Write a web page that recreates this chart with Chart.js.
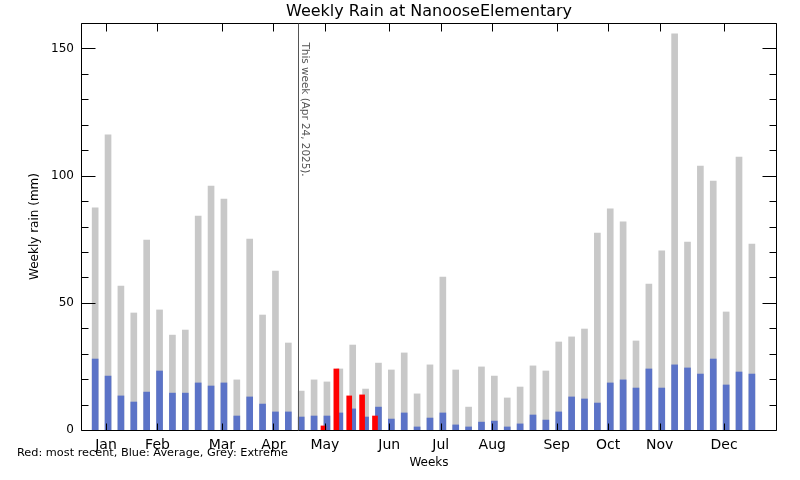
<!DOCTYPE html>
<html>
<head>
<meta charset="utf-8">
<title>Weekly Rain</title>
<script src="https://cdn.jsdelivr.net/npm/chart.js@4.4.1/dist/chart.umd.min.js"></script>
<style>
    html, body { margin: 0; padding: 0; background: #fff; }
    canvas { display: block; }
</style>
</head>
<body>
<canvas id="rainChart" width="800" height="480"></canvas>
<script>
const weeks = [1, 2, 3, 4, 5, 6, 7, 8, 9, 10, 11, 12, 13, 14, 15, 16, 17, 18, 19, 20, 21, 22, 23, 24, 25, 26,
    27, 28, 29, 30, 31, 32, 33, 34, 35, 36, 37, 38, 39, 40, 41, 42, 43, 44, 45, 46, 47, 48, 49, 50, 51, 52];

const extremeRain = [87.3, 116.0, 56.6, 46.0, 74.7, 47.2, 37.3, 39.3, 84.1, 95.9, 90.8, 19.7, 75.1, 45.2, 62.5, 34.2,
    15.3, 19.7, 18.9, 24.0, 33.4, 16.1, 26.3, 23.6, 30.3, 14.2, 25.6, 60.1, 23.6, 9.0, 24.8, 21.2, 12.6, 16.9,
    25.2, 23.2, 34.6, 36.6, 39.7, 77.4, 86.9, 81.8, 35.0, 57.4, 70.4, 155.7, 73.9, 103.8, 97.9, 46.4, 107.3, 73.1];

const averageRain = [27.9, 21.2, 13.4, 11.0, 14.9, 23.2, 14.5, 14.5, 18.5, 17.3, 18.5, 5.5, 13.0, 10.2, 7.1, 7.1,
    5.1, 5.5, 5.5, 6.7, 8.3, 5.1, 9.0, 4.3, 6.7, 1.2, 4.7, 6.7, 2.0, 1.2, 3.1, 3.5, 1.2, 2.4,
    5.9, 3.9, 7.1, 13.0, 12.2, 10.6, 18.5, 19.7, 16.5, 24.0, 16.5, 25.6, 24.4, 22.0, 27.9, 17.7, 22.8, 22.0];

const recentWeeks = [19, 20, 21, 22, 23];
const recentRain = [1.6, 24.0, 13.4, 13.8, 5.5];

const monthNames = ['Jan', 'Feb', 'Mar', 'Apr', 'May', 'Jun', 'Jul', 'Aug', 'Sep', 'Oct', 'Nov', 'Dec'];
const monthTicks = [1.84, 5.84, 10.84, 14.84, 18.84, 23.84, 27.84, 31.84, 36.84, 40.84, 44.84, 49.84];
const yMajorTicks = [0, 50, 100, 150];
const yMinorTicks = [10, 20, 30, 40, 60, 70, 80, 90, 110, 120, 130, 140, 160];

const thisWeek = 16.75;
const thisWeekLabel = 'This week (Apr 24, 2025).';
const noteText = 'Red: most recent, Blue: Average, Grey: Extreme';

const xMin = -0.1;
const xMax = 53.95;
const recentShift = 0.27;

const FONT = '"DejaVu Sans", sans-serif';

function toPoints(xs, ys) {
    return xs.map((x, i) => ({ x: x, y: ys[i] }));
}

// frame, inward ticks, "this week" marker and the colour note
const framePlugin = {
    id: 'frame',
    afterDraw(chart) {
        const ctx = chart.ctx;
        const area = chart.chartArea;
        const x = chart.scales.x;
        const y = chart.scales.y;
        const left = Math.round(area.left) + 0.5;
        const right = Math.round(area.right) - 0.5;
        const top = Math.round(area.top) + 0.5;
        const bottom = Math.round(area.bottom) + 0.5;

        ctx.save();
        ctx.strokeStyle = '#000';
        ctx.lineWidth = 1;
        ctx.beginPath();
        ctx.rect(left, top, right - left, bottom - top);

        yMajorTicks.forEach(v => {
            const py = Math.round(y.getPixelForValue(v)) + 0.5;
            ctx.moveTo(left, py); ctx.lineTo(left + 14, py);
            ctx.moveTo(right, py); ctx.lineTo(right - 14, py);
        });
        yMinorTicks.forEach(v => {
            const py = Math.round(y.getPixelForValue(v)) + 0.5;
            ctx.moveTo(left, py); ctx.lineTo(left + 7, py);
            ctx.moveTo(right, py); ctx.lineTo(right - 7, py);
        });
        monthTicks.forEach(v => {
            const px = Math.round(x.getPixelForValue(v)) + 0.5;
            ctx.moveTo(px, bottom); ctx.lineTo(px, bottom - 7);
            ctx.moveTo(px, top); ctx.lineTo(px, top + 8);
        });
        ctx.stroke();

        const lx = Math.round(x.getPixelForValue(thisWeek)) + 0.5;
        ctx.strokeStyle = '#555';
        ctx.beginPath();
        ctx.moveTo(lx, top);
        ctx.lineTo(lx, bottom);
        ctx.stroke();

        ctx.fillStyle = '#555';
        ctx.font = '10.4px ' + FONT;
        ctx.translate(lx + 3, top + 19);
        ctx.rotate(Math.PI / 2);
        ctx.textAlign = 'left';
        ctx.textBaseline = 'alphabetic';
        ctx.fillText(thisWeekLabel, 0, 0);
        ctx.restore();

        ctx.save();
        ctx.fillStyle = '#000';
        ctx.font = '11.3px ' + FONT;
        ctx.textAlign = 'left';
        ctx.textBaseline = 'middle';
        ctx.fillText(noteText, 17, 453);
        ctx.restore();
    }
};

const ctx = document.getElementById('rainChart').getContext('2d');
new Chart(ctx, {
    type: 'bar',
    data: {
        datasets: [
            {
                label: 'Most recent',
                data: toPoints(recentWeeks, recentRain),
                backgroundColor: '#ff0000',
                barThickness: 5,
                grouped: false,
                xAxisID: 'x2'
            },
            {
                label: 'Average',
                data: toPoints(weeks, averageRain),
                backgroundColor: '#5b73c7',
                barThickness: 6,
                grouped: false
            },
            {
                label: 'Extreme',
                data: toPoints(weeks, extremeRain),
                backgroundColor: '#c8c8c8',
                barThickness: 6,
                grouped: false
            }
        ]
    },
    options: {
        responsive: false,
        animation: false,
        devicePixelRatio: 1,
        layout: { padding: { left: 0, right: 23, top: 0, bottom: 0 } },
        plugins: {
            legend: { display: false },
            tooltip: { enabled: false },
            title: {
                display: true,
                text: 'Weekly Rain at NanooseElementary',
                fullSize: false,
                color: '#000',
                font: { family: FONT, size: 16, weight: 'normal', lineHeight: 1.125 },
                padding: { top: 3, bottom: 2 }
            }
        },
        scales: {
            x: {
                type: 'linear',
                position: 'bottom',
                offset: false,
                min: xMin,
                max: xMax,
                grid: { display: false, drawTicks: false, offset: false },
                border: { display: false },
                afterBuildTicks: scale => { scale.ticks = monthTicks.map(v => ({ value: v })); },
                afterFit: scale => { scale.height = 50; },
                ticks: {
                    autoSkip: false,
                    maxRotation: 0,
                    padding: 7,
                    color: '#000',
                    font: { family: FONT, size: 14 },
                    callback: (value, index) => monthNames[index]
                },
                title: {
                    display: true,
                    text: 'Weeks',
                    color: '#000',
                    font: { family: FONT, size: 12 },
                    padding: { top: 0, bottom: 10 }
                }
            },
            x2: {
                type: 'linear',
                display: false,
                offset: false,
                min: xMin + recentShift,
                max: xMax + recentShift
            },
            y: {
                min: 0,
                max: 160,
                grid: { display: false, drawTicks: false },
                border: { display: false },
                afterBuildTicks: scale => { scale.ticks = yMajorTicks.map(v => ({ value: v })); },
                afterFit: scale => { scale.width = 81; },
                ticks: {
                    padding: 7,
                    color: '#000',
                    font: { family: FONT, size: 12 }
                },
                title: {
                    display: true,
                    text: 'Weekly rain (mm)',
                    color: '#000',
                    font: { family: FONT, size: 12 },
                    padding: { top: 28, bottom: 0 }
                }
            }
        }
    },
    plugins: [framePlugin]
});
</script>
</body>
</html>
